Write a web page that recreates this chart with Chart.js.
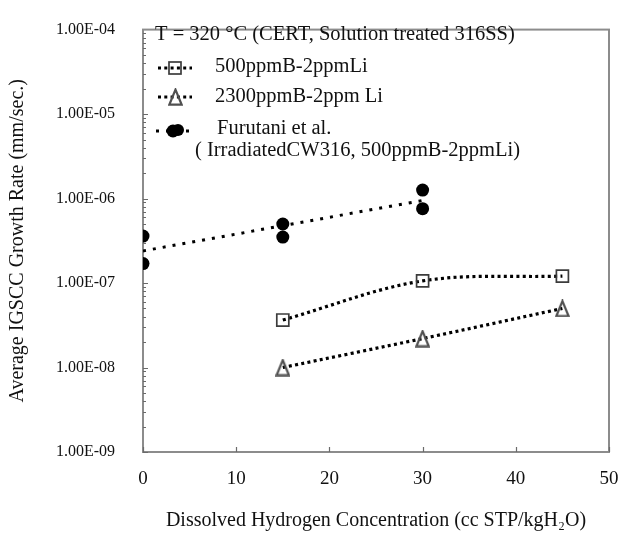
<!DOCTYPE html>
<html><head><meta charset="utf-8">
<script src="https://cdn.jsdelivr.net/npm/chart.js@4/dist/chart.umd.min.js"></script>
<style>html,body{margin:0;padding:0;background:#fff}#wrap{width:631px;height:534px;position:relative}</style>
</head><body><div id="wrap"><canvas id="c"></canvas></div>
<script>
// ---- data ----
const dhX = [15, 30, 45];
const rate500B = [3.65e-8, 1.06e-7, 1.21e-7];
const rate2300B = [1.0e-8, 2.2e-8, 5.0e-8];
const furutaniX = [0, 0, 15, 15, 30, 30];
const furutaniRate = [3.6e-7, 1.7e-7, 5.0e-7, 3.5e-7, 1.26e-6, 7.6e-7];
const furutaniTrendX = [0, 30];
const furutaniTrendRate = [2.4e-7, 9.5e-7];
const xTicks = [0, 10, 20, 30, 40, 50];
const yTicks = [1e-9, 1e-8, 1e-7, 1e-6, 1e-5, 1e-4];
const yTickLabels = ['1.00E-09', '1.00E-08', '1.00E-07', '1.00E-06', '1.00E-05', '1.00E-04'];
const legendTitle = 'T = 320 \u00B0C (CERT, Solution treated 316SS)';
const seriesNames = ['500ppmB-2ppmLi', '2300ppmB-2ppm Li', 'Furutani et al.'];
const furutaniNote = '( IrradiatedCW316, 500ppmB-2ppmLi)';
const xTitle = 'Dissolved Hydrogen Concentration (cc STP/kgH\u2082O)';
const yTitle = 'Average IGSCC Growth Rate (mm/sec.)';

const SERIF = "'Liberation Serif', 'Times New Roman', serif";

function triCanvas() {
  const c = document.createElement('canvas');
  c.width = 15; c.height = 18;
  const g = c.getContext('2d');
  g.strokeStyle = '#505050'; g.lineWidth = 2.2; g.lineJoin = 'miter';
  g.beginPath(); g.moveTo(7.5, 1.6); g.lineTo(13.6, 16.6); g.lineTo(1.4, 16.6); g.closePath(); g.stroke();
  return c;
}
const triMarker = triCanvas();

const pts = (xs, ys) => xs.map((x, i) => ({x: x, y: ys[i]}));

const frame = {
  id: 'frame',
  beforeDatasetsDraw(chart) {
    const {ctx, chartArea: a, scales: {x, y}} = chart;
    ctx.save();
    ctx.strokeStyle = '#8c8c8c'; ctx.lineWidth = 2;
    ctx.strokeRect(a.left, a.top, a.right - a.left, a.bottom - a.top);
    ctx.strokeStyle = '#6a6a6a'; ctx.lineWidth = 1.2;
    ctx.beginPath();
    for (let d = 0; d < yTicks.length - 1; d++) {
      for (let m = 1; m < 10; m++) {
        const py = Math.round(y.getPixelForValue(yTicks[d] * m)) + 0.5;
        const len = m === 1 ? 5 : 3;
        ctx.moveTo(a.left, py); ctx.lineTo(a.left + len, py);
      }
    }
    xTicks.forEach(v => {
      const px = Math.round(x.getPixelForValue(v)) + 0.5;
      ctx.moveTo(px, a.bottom); ctx.lineTo(px, a.bottom - 5);
    });
    ctx.stroke();
    ctx.restore();
  },
  afterDraw(chart) {
    const ctx = chart.ctx;
    ctx.save();
    ctx.fillStyle = '#111';
    ctx.textBaseline = 'middle';
    ctx.textAlign = 'left';
    ctx.font = '20.5px ' + SERIF;
    ctx.fillText(legendTitle, 155, 35);
    ctx.fillText(seriesNames[0], 215, 67);
    ctx.fillText(seriesNames[1], 215, 97);
    ctx.fillText(seriesNames[2], 217, 129);
    ctx.fillText(furutaniNote, 195, 151);
    // sample lines
    ctx.strokeStyle = '#000';
    ctx.lineWidth = 3; ctx.setLineDash([3, 3.3]);
    [68, 97].forEach(yy => { ctx.beginPath(); ctx.moveTo(158, yy); ctx.lineTo(192, yy); ctx.stroke(); });
    ctx.lineWidth = 3; ctx.setLineDash([3, 7]);
    ctx.beginPath(); ctx.moveTo(156, 131); ctx.lineTo(192, 131); ctx.stroke();
    ctx.setLineDash([]);
    // markers
    ctx.strokeStyle = '#3c3c3c'; ctx.lineWidth = 1.7;
    ctx.strokeRect(169, 62, 12, 12);
    ctx.drawImage(triMarker, 168, 88);
    ctx.fillStyle = '#000';
    ctx.beginPath(); ctx.arc(173, 131, 6.5, 0, Math.PI * 2); ctx.fill();
    ctx.beginPath(); ctx.arc(178, 130, 6, 0, Math.PI * 2); ctx.fill();
    ctx.restore();
  }
};

new Chart(document.getElementById('c'), {
  type: 'scatter',
  data: {
    datasets: [
      {
        label: seriesNames[2], data: pts(furutaniX, furutaniRate), showLine: false,
        pointStyle: 'circle', pointRadius: 6.5, pointHoverRadius: 6.5,
        pointBackgroundColor: '#000', pointBorderColor: '#000', pointBorderWidth: 0
      },
      {
        label: seriesNames[0], data: pts(dhX, rate500B), showLine: true, tension: 0.35,
        borderColor: '#000', borderWidth: 3.2, borderDash: [3, 3.3],
        pointStyle: 'rect', pointRadius: 8.5, pointHoverRadius: 8.5,
        pointBackgroundColor: 'rgba(0,0,0,0)', pointBorderColor: '#3c3c3c', pointBorderWidth: 1.7
      },
      {
        label: seriesNames[1], data: pts(dhX, rate2300B), showLine: true, tension: 0.3,
        borderColor: '#000', borderWidth: 3.2, borderDash: [3, 3.3],
        pointStyle: triMarker, pointRadius: 8, pointHoverRadius: 8
      },
      {
        label: 'Furutani trend', data: pts(furutaniTrendX, furutaniTrendRate), showLine: true,
        borderColor: '#000', borderWidth: 3, borderDash: [3, 7], pointRadius: 0
      }
    ]
  },
  options: {
    responsive: true, maintainAspectRatio: false, animation: false,
    devicePixelRatio: 1,
    layout: {padding: {top: 20, right: 22, left: 0, bottom: 0}},
    plugins: {legend: {display: false}, tooltip: {enabled: false}},
    scales: {
      x: {
        type: 'linear', min: 0, max: 50,
        afterBuildTicks: s => { s.ticks = xTicks.map(v => ({value: v})); },
        afterFit: s => { s.height = 82; },
        grid: {display: false}, border: {display: false},
        ticks: {font: {family: SERIF, size: 19}, color: '#111', padding: 8, maxRotation: 0, autoSkip: false},
        title: {display: true, text: xTitle, font: {family: SERIF, size: 20}, color: '#111', padding: {top: 0, bottom: 1}}
      },
      y: {
        type: 'logarithmic', min: 1e-9, max: 1e-4,
        afterBuildTicks: s => { s.ticks = yTicks.map(v => ({value: v})); },
        afterFit: s => { s.width = 143; },
        grid: {display: false}, border: {display: false},
        ticks: {
          font: {family: SERIF, size: 16}, color: '#111', padding: 20, autoSkip: false,
          callback: v => { const i = yTicks.findIndex(t => Math.abs(t - v) / t < 1e-6); return i >= 0 ? yTickLabels[i] : ''; }
        },
        title: {display: true, text: yTitle, font: {family: SERIF, size: 20}, color: '#111', padding: {top: 6, bottom: 0}}
      }
    }
  },
  plugins: [frame]
});
</script>
</body></html>
